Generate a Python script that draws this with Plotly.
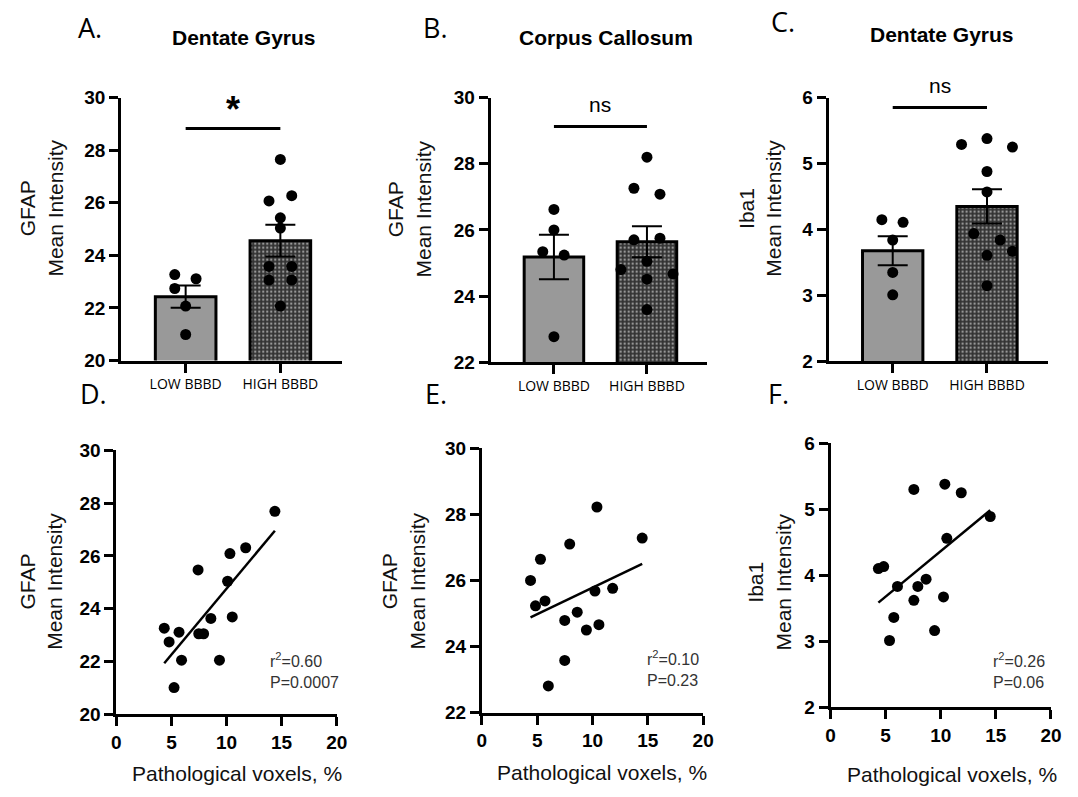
import numpy as np
import plotly.graph_objects as go

W, H = 1078, 797

# ---------------- data ----------------
groups = ["LOW BBBD", "HIGH BBBD"]
panel_letters = ["A.", "B.", "C.", "D.", "E.", "F."]
panel_titles = ["Dentate Gyrus", "Corpus Callosum", "Dentate Gyrus"]
bar_ytitles = ["GFAP<br>Mean Intensity", "GFAP<br>Mean Intensity", "Iba1<br>Mean Intensity"]
sig_labels = ["*", "ns", "ns"]
sig_levels = [28.83, 29.13, 5.85]

# Panel A – GFAP, Dentate Gyrus
a_low = [23.27, 23.11, 22.74, 22.07, 20.99]
a_high = [27.65, 26.07, 26.27, 25.43, 25.04, 23.58, 23.58, 23.06, 23.06, 22.07]
a_mean = [22.43, 24.56]
a_sem = [0.42, 0.60]
a_low_jit = [-0.115, 0.11, -0.115, 0.0, 0.0]
a_high_jit = [0.0, -0.12, 0.12, 0.0, 0.0, -0.12, 0.12, -0.12, 0.12, 0.0]

# Panel B – GFAP, Corpus Callosum
b_low = [26.62, 26.00, 25.34, 25.24, 22.77]
b_high = [28.20, 27.26, 27.08, 25.70, 25.75, 25.05, 24.80, 24.67, 24.51, 23.59]
b_mean = [25.18, 25.64]
b_sem = [0.67, 0.47]
b_low_jit = [0.0, 0.0, -0.12, 0.11, 0.0]
b_high_jit = [0.0, -0.14, 0.14, -0.14, 0.14, 0.0, -0.28, 0.28, 0.0, 0.0]

# Panel C – Iba1, Dentate Gyrus
c_low = [4.15, 4.11, 3.84, 3.35, 3.01]
c_high = [5.29, 5.38, 5.25, 4.88, 4.57, 3.94, 3.84, 3.67, 3.61, 3.15]
c_mean = [3.68, 4.35]
c_sem = [0.22, 0.26]
c_low_jit = [-0.115, 0.11, 0.0, 0.0, 0.0]
c_high_jit = [-0.27, 0.0, 0.27, 0.0, 0.0, -0.14, 0.14, 0.27, 0.0, 0.0]

# Panel D – GFAP (DG) vs pathological voxels
d_x = [4.35, 4.79, 5.69, 5.92, 5.24, 7.42, 7.48, 7.92, 8.58, 9.36, 10.31, 10.10, 10.52, 11.74, 14.39]
d_y = [23.26, 22.74, 23.11, 22.05, 21.01, 25.47, 23.05, 23.05, 23.63, 22.05, 26.09, 25.04, 23.69, 26.31, 27.69]
# Panel E – GFAP (CC) vs pathological voxels
e_x = [4.40, 4.85, 5.71, 5.30, 6.01, 7.94, 7.49, 7.49, 8.62, 9.45, 10.22, 10.58, 10.40, 11.82, 14.49]
e_y = [26.00, 25.23, 25.38, 26.64, 22.81, 27.10, 24.79, 23.58, 25.04, 24.50, 25.68, 24.66, 28.22, 25.76, 27.28]
# Panel F – Iba1 (DG) vs pathological voxels
f_x = [4.34, 4.82, 5.35, 5.74, 6.07, 7.56, 7.56, 7.92, 8.67, 9.44, 10.25, 10.37, 10.55, 11.86, 14.49]
f_y = [4.10, 4.13, 3.01, 3.36, 3.83, 5.30, 3.62, 3.83, 3.94, 3.16, 3.67, 5.38, 4.56, 5.25, 4.89]
stats_r2 = ["0.60", "0.10", "0.26"]
stats_p = ["0.0007", "0.23", "0.06"]
scatter_ytitles = ["GFAP<br>Mean Intensity", "GFAP<br>Mean Intensity", "Iba1<br>Mean Intensity"]
xtitle = "Pathological voxels, %"

# ---------------- layout geometry (pixels) ----------------
bar_boxes = [(118, 342, 90, 360), (493, 713, 90, 361.7), (836, 1059, 90, 361)]
bar_ranges = [[20, 30], [22, 30], [2, 6]]
bar_dticks = [2, 2, 1]
sc_boxes = [(113, 336.7, 452.3, 723.3), (484, 708.7, 450, 721.7), (838, 1061.7, 445, 716)]
sc_ranges = bar_ranges
bar_ytitle_pos = [(36.5, 203), (410, 204), (765.5, 204)]
sc_ytitle_pos = [(35.8, 587), (404, 587), (775.5, 587)]
xtitle_pos = [(235, 784), (606, 783), (961, 785)]
title_pos = [(242.5, 28), (610, 28), (951, 25)]
letter_pos = [(86, 18), (437, 18), (790, 12), (90, 394), (437, 394), (785, 394)]
stat_pos = [(266.7, 678), (650, 676), (1000.7, 678)]

BOLD = dict(family="Liberation Sans, Arial, sans-serif", size=19, color="black", weight="bold")
REG = "Liberation Sans, Arial, sans-serif"


def px(x):
    return x / W


def py(y):
    return 1 - y / H


fig = go.Figure()
layout = dict(
    width=W, height=H, margin=dict(l=0, r=0, t=0, b=0),
    paper_bgcolor="white", plot_bgcolor="white", showlegend=False,
)
annotations = []

axis_common = dict(showgrid=False, zeroline=False, showline=True, linewidth=3,
                   linecolor="black", ticks="outside", ticklen=9, tickwidth=3,
                   tickcolor="black", fixedrange=True)

bar_sets = [
    (a_low, a_high, a_mean, a_sem, a_low_jit, a_high_jit),
    (b_low, b_high, b_mean, b_sem, b_low_jit, b_high_jit),
    (c_low, c_high, c_mean, c_sem, c_low_jit, c_high_jit),
]

for i, (low, high, mean, sem, ljit, hjit) in enumerate(bar_sets):
    n = i + 1
    xa = "x" if n == 1 else f"x{n}"
    ya = "y" if n == 1 else f"y{n}"
    l, r, t, b = bar_boxes[i]
    layout[f"xaxis{'' if n == 1 else n}"] = dict(
        axis_common, domain=[px(l), px(r)], anchor=ya, range=[-0.68, 1.65],
        tickvals=[0, 1], ticktext=groups,
        tickfont=dict(family="Open Sans, sans-serif", size=14, color="black"))
    layout[f"yaxis{'' if n == 1 else n}"] = dict(
        axis_common, domain=[py(b), py(t)], anchor=xa, range=bar_ranges[i],
        dtick=bar_dticks[i], tickfont=BOLD)
    fig.add_trace(go.Bar(
        x=[0, 1], y=mean, width=0.64, xaxis=xa, yaxis=ya,
        marker=dict(color=["#999999", "#333333"],
                    line=dict(color="black", width=3),
                    pattern=dict(shape=["", "."], fillmode="overlay",
                                 fgcolor="#a8a8a8", size=4, solidity=0.28)),
        error_y=dict(type="data", array=sem, color="black", thickness=2, width=15),
    ))
    xs = [0 + j for j in ljit] + [1 + j for j in hjit]
    ys = list(low) + list(high)
    fig.add_trace(go.Scatter(x=xs, y=ys, mode="markers", xaxis=xa, yaxis=ya,
                             marker=dict(color="black", size=11), cliponaxis=False))
    fig.add_trace(go.Scatter(x=[0, 1], y=[sig_levels[i]] * 2, mode="lines",
                             xaxis=xa, yaxis=ya, line=dict(color="black", width=3),
                             cliponaxis=False))
    if sig_labels[i] == "*":
        annotations.append(dict(x=0.5, y=sig_levels[i], xref=xa, yref=ya, text="*",
                                showarrow=False, yanchor="middle", yshift=19,
                                font=dict(family=REG, size=36, color="black", weight="bold")))
    else:
        annotations.append(dict(x=0.5, y=sig_levels[i], xref=xa, yref=ya, text=sig_labels[i],
                                showarrow=False, yanchor="middle", yshift=22,
                                font=dict(family=REG, size=21, color="black")))
    yx, yy = bar_ytitle_pos[i]
    annotations.append(dict(x=px(yx), y=py(yy), xref="paper", yref="paper",
                            text=bar_ytitles[i], textangle=-90, showarrow=False,
                            xanchor="center", yanchor="middle",
                            font=dict(family=REG, size=21, color="#111111")))
    tx, ty = title_pos[i]
    annotations.append(dict(x=px(tx), y=py(ty), xref="paper", yref="paper",
                            text=panel_titles[i], showarrow=False,
                            xanchor="center", yanchor="middle",
                            font=dict(family=REG, size=21, color="black", weight="bold")))

sc_sets = [(d_x, d_y), (e_x, e_y), (f_x, f_y)]
for i, (sx, sy) in enumerate(sc_sets):
    n = i + 4
    xa, ya = f"x{n}", f"y{n}"
    l, r, t, b = sc_boxes[i]
    layout[f"xaxis{n}"] = dict(axis_common, domain=[px(l), px(r)], anchor=ya,
                               range=[0, 20], dtick=5, tickfont=BOLD)
    layout[f"yaxis{n}"] = dict(axis_common, domain=[py(b), py(t)], anchor=xa,
                               range=sc_ranges[i], dtick=bar_dticks[i], tickfont=BOLD)
    fig.add_trace(go.Scatter(x=sx, y=sy, mode="markers", xaxis=xa, yaxis=ya,
                             marker=dict(color="black", size=11), cliponaxis=False))
    slope, icpt = np.polyfit(sx, sy, 1)
    xl = np.array([min(sx), max(sx)])
    fig.add_trace(go.Scatter(x=xl, y=slope * xl + icpt, mode="lines", xaxis=xa, yaxis=ya,
                             line=dict(color="black", width=2.5)))
    sxp, syp = stat_pos[i]
    annotations.append(dict(x=px(sxp), y=py(syp), xref="paper", yref="paper",
                            text="r<sup>2</sup>=" + stats_r2[i] + "<br>P=" + stats_p[i],
                            showarrow=False, align="left",
                            xanchor="left", yanchor="middle",
                            font=dict(family=REG, size=16, color="#333333")))
    yx, yy = sc_ytitle_pos[i]
    annotations.append(dict(x=px(yx), y=py(yy), xref="paper", yref="paper",
                            text=scatter_ytitles[i], textangle=-90, showarrow=False,
                            xanchor="center", yanchor="middle",
                            font=dict(family=REG, size=21, color="#111111")))
    xx, xy = xtitle_pos[i]
    annotations.append(dict(x=px(xx), y=py(xy), xref="paper", yref="paper",
                            text=xtitle, showarrow=False,
                            xanchor="center", yanchor="middle",
                            font=dict(family=REG, size=21, color="#111111")))

for k, lt in enumerate(panel_letters):
    lx, ly = letter_pos[k]
    annotations.append(dict(x=px(lx), y=py(ly), xref="paper", yref="paper",
                            text=lt, showarrow=False, xanchor="center", yanchor="middle",
                            font=dict(family="Open Sans, sans-serif", size=27, color="black")))

layout["annotations"] = annotations
fig.update_layout(**layout)
fig.write_html("out.html")
